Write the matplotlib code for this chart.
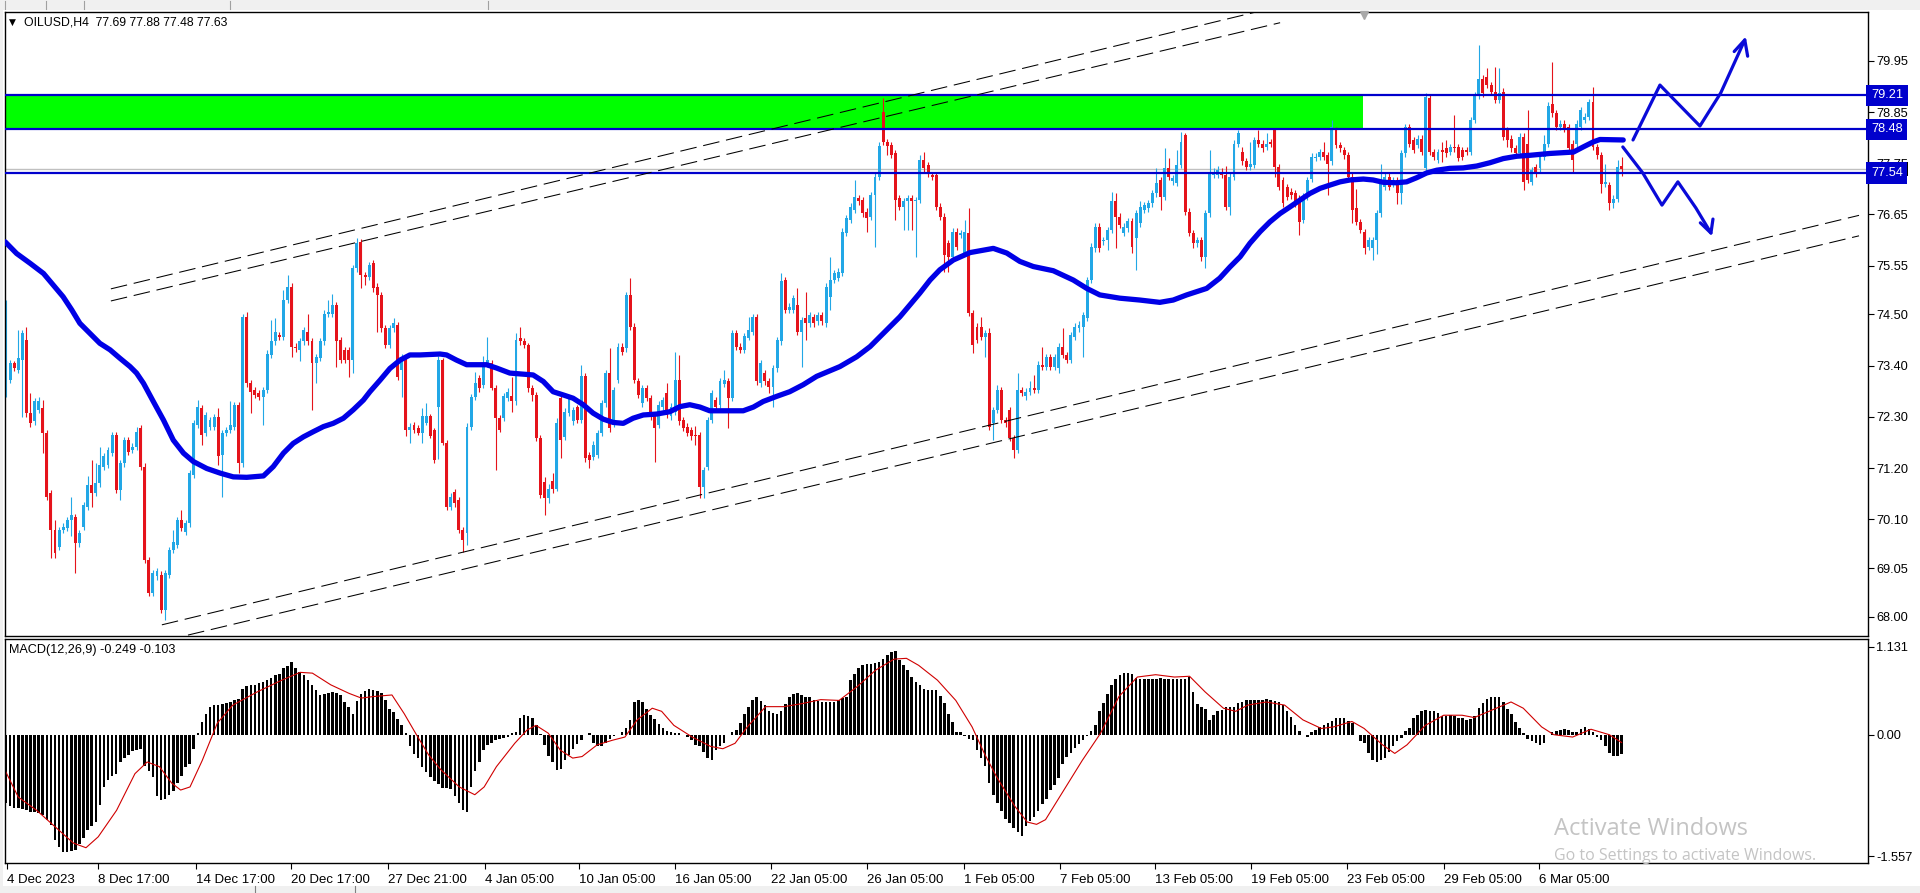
import numpy as np
import matplotlib
matplotlib.use("Agg")
import matplotlib.pyplot as plt
from matplotlib.patches import Rectangle

plt.rcParams['font.family'] = ['Liberation Sans', 'DejaVu Sans']

# ------------------------------------------------------------
# OILUSD H4 candles, one entry per bar
# ------------------------------------------------------------
open_ = [
    73.30, 73.09, 73.45, 73.31, 73.52, 73.95, 72.38, 72.20, 72.45, 72.48,
    71.95, 70.66, 69.87, 69.51, 69.87, 69.91, 70.08, 70.15, 69.58, 69.94,
    70.37, 70.84, 70.66, 70.87, 71.23, 71.27, 71.52, 71.91, 70.73, 71.30,
    71.80, 71.59, 71.66, 72.05, 71.23, 69.22, 68.51, 68.87, 68.91, 68.15,
    68.90, 69.44, 69.55, 70.08, 69.83, 70.01, 71.05, 72.12, 72.48, 71.95,
    72.09, 72.09, 72.30, 71.48, 71.95, 72.02, 72.09, 72.55, 71.30, 74.45,
    73.02, 72.88, 72.81, 72.73, 72.88, 73.63, 73.92, 74.06, 74.02, 74.81,
    75.10, 73.81, 73.74, 73.92, 74.13, 73.92, 73.45, 73.56, 73.92, 74.52,
    74.52, 74.70, 73.95, 73.74, 73.74, 73.52, 75.49, 76.06, 75.35, 75.31,
    75.60, 75.10, 74.92, 74.20, 73.84, 74.20, 74.27, 73.31, 73.59, 72.02,
    72.12, 72.06, 71.95, 72.16, 72.31, 72.02, 72.52, 73.52, 71.73, 70.37,
    70.69, 70.51, 69.87, 69.80, 72.09, 72.73, 73.13, 72.99, 73.45, 73.45,
    72.92, 72.27, 72.27, 72.70, 72.74, 72.63, 73.99, 73.92, 73.85, 72.92,
    72.77, 71.84, 70.90, 70.55, 70.92, 70.75, 72.70, 71.87, 72.38, 72.20,
    72.52, 72.23, 73.17, 71.48, 71.44, 71.48, 71.95, 72.59, 73.24, 72.16,
    73.09, 73.81, 73.77, 74.92, 74.24, 73.06, 72.59, 72.91, 72.70, 72.34,
    72.13, 72.52, 72.81, 72.31, 72.41, 73.09, 72.23, 72.09, 72.02, 71.91,
    71.91, 70.80, 71.23, 72.23, 72.66, 72.56, 73.00, 73.06, 72.70, 74.10,
    73.81, 73.74, 74.00, 74.13, 74.45, 73.02, 73.24, 73.06, 72.95, 73.34,
    73.92, 75.24, 74.60, 74.60, 74.70, 74.13, 74.42, 74.31, 74.45, 74.35,
    74.49, 74.31, 74.88, 75.24, 75.28, 75.39, 76.25, 76.53, 76.75, 77.00,
    76.96, 76.71, 76.60, 77.07, 77.46, 78.85, 78.21, 78.14, 77.96, 77.00,
    76.82, 76.93, 77.00, 76.93, 76.96, 77.82, 77.71, 77.50, 77.50, 76.82,
    76.60, 76.03, 75.74, 76.28, 76.21, 75.82, 76.25, 74.53, 74.24, 74.24,
    74.02, 74.10, 72.16, 72.45, 72.88, 72.23, 72.45, 71.84, 71.59, 72.88,
    72.74, 72.84, 72.91, 72.88, 73.42, 73.38, 73.59, 73.38, 73.34, 73.81,
    73.63, 73.52, 74.02, 74.20, 74.24, 74.42, 75.24, 75.92, 76.39, 76.07,
    76.10, 76.32, 76.93, 76.60, 76.25, 76.35, 76.50, 76.14, 76.46, 76.75,
    76.78, 76.89, 77.10, 77.39, 77.03, 77.64, 77.36, 77.32, 77.71, 78.36,
    76.71, 76.25, 76.03, 76.10, 75.74, 76.67, 77.50, 77.50, 77.57, 77.50,
    76.82, 77.46, 78.17, 78.00, 77.79, 77.67, 77.71, 78.24, 78.17, 78.10,
    78.21, 78.46, 77.67, 77.39, 77.24, 77.14, 77.10, 76.99, 76.53, 77.03,
    77.42, 77.86, 77.89, 77.99, 77.92, 77.79, 78.46, 78.14, 78.03, 77.92,
    77.46, 76.78, 76.49, 76.27, 75.95, 75.92, 76.10, 76.67, 77.24, 77.46,
    77.31, 77.39, 77.10, 77.96, 78.53, 78.24, 78.14, 78.28, 77.64, 79.15,
    77.99, 77.82, 78.03, 78.07, 77.99, 78.10, 78.10, 78.03, 78.03, 77.99,
    78.68, 79.21, 79.57, 79.61, 79.43, 79.29, 79.11, 79.29, 78.46, 78.28,
    78.07, 77.96, 78.32, 78.17, 77.35, 77.67, 77.64, 77.89, 78.17, 79.03,
    78.82, 78.53, 78.60, 78.53, 78.17, 78.17, 78.53, 78.68, 78.75, 79.07,
    78.10, 77.92, 77.31, 77.28, 76.89, 76.99, 77.69,
]
high = [
    74.81, 73.52, 73.50, 74.17, 74.17, 74.24, 72.81, 72.70, 72.73, 72.66,
    72.02, 70.73, 70.08, 69.94, 70.01, 70.15, 70.58, 70.22, 69.87, 70.48,
    71.02, 71.37, 71.30, 71.66, 71.52, 71.66, 71.98, 71.98, 71.37, 71.87,
    71.87, 71.73, 72.09, 72.12, 71.30, 69.29, 69.01, 69.05, 68.98, 69.01,
    69.51, 69.87, 70.15, 70.30, 70.08, 71.16, 72.23, 72.66, 72.55, 72.41,
    72.30, 72.37, 72.48, 72.02, 72.09, 72.63, 72.62, 72.62, 74.52, 74.56,
    73.09, 72.95, 72.88, 72.95, 73.73, 74.38, 74.42, 74.13, 75.03, 75.35,
    75.17, 73.88, 73.99, 74.24, 74.52, 73.99, 73.66, 73.99, 74.59, 74.81,
    74.95, 74.77, 74.02, 73.81, 73.81, 75.56, 76.14, 76.13, 75.42, 75.63,
    75.67, 75.17, 74.99, 74.27, 74.27, 74.42, 74.34, 73.66, 73.66, 72.16,
    72.19, 72.12, 72.49, 72.59, 72.36, 72.06, 73.60, 73.56, 71.80, 70.66,
    70.75, 70.58, 69.94, 72.16, 72.80, 73.27, 73.20, 73.60, 74.02, 73.52,
    72.99, 72.34, 72.81, 72.91, 73.16, 74.10, 74.24, 73.99, 73.88, 72.99,
    72.84, 71.91, 71.00, 70.85, 71.10, 72.27, 72.77, 72.49, 72.77, 72.52,
    72.56, 73.42, 73.24, 71.55, 71.77, 72.02, 72.66, 73.31, 73.77, 72.95,
    73.88, 73.88, 74.99, 75.28, 74.31, 73.13, 72.99, 72.99, 72.77, 72.41,
    72.63, 72.73, 73.02, 72.59, 73.70, 73.63, 72.30, 72.16, 72.09, 72.10,
    71.98, 71.23, 72.30, 72.88, 72.73, 73.13, 73.30, 73.13, 74.17, 74.17,
    73.88, 74.10, 74.45, 74.52, 74.52, 73.52, 73.31, 73.13, 73.41, 74.02,
    75.39, 75.31, 74.74, 74.92, 75.06, 74.45, 74.99, 74.56, 74.52, 74.56,
    74.56, 75.17, 75.74, 75.46, 75.49, 76.35, 76.64, 76.89, 77.39, 77.07,
    77.03, 76.78, 77.14, 77.53, 78.20, 79.15, 78.28, 78.21, 78.03, 77.07,
    77.00, 77.07, 77.07, 77.03, 77.93, 78.00, 77.78, 77.57, 77.57, 76.89,
    76.67, 76.10, 76.35, 76.35, 76.32, 76.53, 76.78, 74.60, 74.31, 74.45,
    74.17, 74.20, 72.52, 72.98, 72.95, 72.30, 72.52, 71.91, 73.24, 72.95,
    72.91, 73.06, 73.20, 73.49, 73.81, 73.66, 73.66, 73.66, 73.88, 74.20,
    73.70, 74.13, 74.31, 74.35, 74.56, 75.31, 76.03, 76.46, 76.46, 76.17,
    76.39, 77.14, 77.10, 76.67, 76.46, 76.57, 76.57, 76.74, 76.93, 76.92,
    76.96, 77.17, 77.64, 77.46, 78.07, 77.86, 77.50, 78.04, 78.43, 78.39,
    76.78, 76.32, 76.17, 76.17, 76.74, 78.04, 77.64, 77.68, 77.64, 77.68,
    77.53, 78.24, 78.46, 78.10, 77.86, 78.21, 78.31, 78.46, 78.24, 78.39,
    78.28, 78.50, 77.74, 77.46, 77.31, 77.21, 77.17, 77.06, 77.10, 77.46,
    77.96, 77.96, 78.06, 78.21, 77.99, 78.68, 78.53, 78.21, 78.10, 77.99,
    77.53, 77.20, 76.56, 76.34, 76.17, 76.17, 76.74, 77.74, 77.53, 77.53,
    77.46, 77.46, 78.03, 78.60, 78.60, 78.31, 78.35, 78.35, 79.25, 79.22,
    78.06, 78.06, 78.21, 78.25, 78.17, 78.78, 78.17, 78.10, 78.10, 78.75,
    79.28, 80.29, 79.64, 79.79, 79.50, 79.82, 79.79, 79.36, 78.53, 78.35,
    78.14, 78.39, 78.39, 78.89, 77.67, 77.74, 77.96, 78.35, 79.06, 79.93,
    78.89, 78.67, 78.67, 78.60, 78.24, 78.67, 78.96, 78.82, 79.14, 79.39,
    78.17, 77.99, 77.74, 77.35, 77.06, 77.82, 77.88,
]
low = [
    72.73, 73.02, 73.28, 73.24, 72.30, 72.30, 72.09, 72.13, 72.38, 71.52,
    70.51, 69.26, 69.26, 69.44, 69.80, 69.84, 69.73, 68.94, 69.51, 69.87,
    70.30, 70.37, 70.59, 70.80, 71.16, 71.20, 71.45, 70.66, 70.51, 71.23,
    71.48, 71.52, 71.59, 71.16, 69.15, 68.44, 68.44, 68.80, 68.08, 67.93,
    68.83, 69.37, 69.48, 69.84, 69.76, 69.94, 70.98, 72.05, 71.70, 71.88,
    72.02, 72.02, 71.27, 70.58, 71.88, 71.95, 72.02, 71.09, 71.23, 72.95,
    72.38, 72.70, 72.66, 72.12, 72.81, 73.56, 73.85, 73.95, 73.95, 74.74,
    73.59, 73.70, 73.49, 73.85, 73.85, 72.45, 73.02, 73.49, 73.85, 74.45,
    74.45, 73.38, 73.45, 73.45, 73.16, 73.24, 75.42, 75.06, 75.13, 75.24,
    74.99, 74.13, 74.13, 73.77, 73.77, 74.13, 73.09, 72.73, 71.88, 71.73,
    71.95, 71.90, 71.73, 72.12, 71.84, 71.30, 71.40, 71.70, 70.30, 70.30,
    70.37, 69.80, 69.40, 69.55, 72.02, 72.66, 72.84, 72.92, 73.38, 72.88,
    71.16, 71.98, 72.20, 72.63, 72.41, 72.56, 73.85, 73.77, 72.84, 72.63,
    71.77, 70.55, 70.19, 70.45, 70.66, 70.70, 71.41, 71.80, 72.31, 72.13,
    72.16, 72.16, 71.34, 71.20, 71.37, 71.41, 71.88, 72.52, 71.98, 72.09,
    73.02, 73.63, 73.70, 74.17, 73.02, 72.70, 72.52, 72.63, 72.24, 71.34,
    72.06, 72.45, 72.27, 72.24, 72.34, 72.13, 71.99, 71.88, 71.80, 71.70,
    70.55, 70.55, 71.16, 72.16, 72.45, 72.49, 72.95, 72.06, 72.63, 73.74,
    73.67, 73.67, 73.95, 74.06, 72.99, 72.95, 72.99, 72.81, 72.52, 73.27,
    73.85, 74.53, 74.53, 74.53, 74.06, 73.38, 73.95, 74.24, 74.24, 74.28,
    74.28, 74.24, 74.60, 75.17, 75.21, 75.32, 76.18, 76.46, 76.68, 76.86,
    76.60, 76.28, 76.53, 75.96, 77.39, 78.14, 77.93, 77.86, 76.53, 76.75,
    76.32, 76.32, 76.32, 75.74, 76.89, 77.57, 77.46, 77.39, 76.75, 76.53,
    75.42, 75.42, 75.67, 75.89, 76.14, 75.75, 74.46, 73.67, 73.88, 73.95,
    73.59, 72.02, 71.80, 72.38, 72.16, 72.09, 71.77, 71.41, 71.52, 72.74,
    72.67, 72.77, 72.81, 72.81, 73.31, 73.31, 73.31, 73.31, 73.24, 73.56,
    73.45, 73.45, 73.95, 74.13, 73.59, 74.35, 75.17, 75.85, 75.85, 76.00,
    75.89, 76.25, 75.92, 76.35, 76.18, 76.28, 75.82, 75.46, 76.39, 76.68,
    76.71, 76.82, 77.03, 76.75, 76.96, 77.39, 77.29, 77.25, 77.64, 76.64,
    76.18, 75.92, 75.96, 75.64, 75.49, 76.60, 77.43, 77.43, 77.43, 76.75,
    76.64, 77.39, 78.10, 77.72, 77.60, 77.60, 77.64, 78.10, 78.00, 78.03,
    78.10, 77.46, 77.17, 76.82, 76.96, 76.99, 76.82, 76.20, 76.46, 76.96,
    77.35, 77.79, 77.82, 77.82, 77.06, 77.72, 78.07, 78.00, 77.85, 77.39,
    76.46, 76.42, 76.24, 75.81, 75.88, 75.67, 75.81, 76.60, 77.17, 77.17,
    77.24, 76.88, 76.88, 77.89, 78.10, 77.96, 78.07, 77.93, 77.57, 77.92,
    77.82, 77.75, 77.78, 77.89, 77.92, 78.00, 77.79, 77.82, 77.92, 77.92,
    78.61, 79.14, 79.18, 79.36, 79.22, 79.04, 79.04, 78.25, 78.10, 78.00,
    77.89, 77.89, 77.17, 77.32, 77.28, 77.46, 77.57, 77.82, 78.10, 78.75,
    78.46, 78.46, 78.43, 78.00, 77.56, 78.10, 78.46, 78.61, 78.68, 78.03,
    77.85, 77.10, 77.24, 76.74, 76.78, 76.92, 77.48,
]
close_ = [
    74.30, 73.45, 73.35, 73.56, 74.10, 72.38, 72.16, 72.63, 72.63, 71.95,
    70.58, 69.87, 69.37, 69.87, 69.94, 70.08, 70.19, 69.58, 69.80, 70.41,
    70.84, 70.66, 70.87, 71.27, 71.45, 71.59, 71.91, 70.73, 71.30, 71.80,
    71.55, 71.66, 71.98, 71.23, 69.22, 68.51, 68.94, 68.98, 68.15, 68.94,
    69.44, 69.62, 70.08, 69.91, 70.01, 71.09, 72.16, 72.52, 71.91, 72.34,
    72.23, 72.30, 71.45, 71.95, 72.02, 72.12, 72.55, 71.30, 74.45, 73.02,
    72.84, 72.77, 72.73, 72.88, 73.66, 73.92, 74.13, 74.02, 74.81, 75.10,
    73.81, 73.77, 73.92, 74.17, 73.92, 73.45, 73.59, 73.92, 74.52, 74.56,
    74.70, 73.92, 73.52, 73.52, 73.52, 75.49, 76.03, 75.35, 75.31, 75.56,
    75.06, 74.92, 74.20, 73.84, 74.20, 74.31, 73.16, 73.59, 72.02, 72.09,
    72.02, 71.95, 72.31, 72.31, 71.88, 71.37, 73.52, 71.73, 70.37, 70.58,
    70.44, 69.87, 69.65, 72.09, 72.73, 73.02, 72.91, 73.45, 73.52, 72.92,
    72.27, 72.02, 72.74, 72.84, 72.63, 73.95, 73.92, 73.85, 72.92, 72.77,
    71.84, 70.62, 70.55, 70.75, 70.75, 72.16, 71.80, 72.41, 72.70, 72.45,
    72.23, 73.17, 71.41, 71.37, 71.70, 71.95, 72.59, 73.24, 72.06, 72.88,
    73.81, 73.70, 74.92, 74.24, 73.09, 72.77, 72.91, 72.70, 72.31, 72.06,
    72.56, 72.66, 72.34, 72.52, 73.09, 72.20, 72.06, 71.95, 71.88, 71.88,
    70.80, 71.16, 72.23, 72.81, 72.52, 73.06, 73.09, 72.70, 74.10, 73.81,
    73.74, 74.03, 74.17, 74.45, 73.06, 73.45, 73.06, 72.95, 73.34, 73.95,
    75.21, 74.60, 74.67, 74.85, 74.13, 74.38, 74.31, 74.49, 74.31, 74.49,
    74.35, 75.10, 75.24, 75.39, 75.42, 76.28, 76.57, 76.82, 77.03, 76.93,
    76.67, 76.57, 77.07, 77.46, 78.11, 78.21, 78.11, 77.93, 76.96, 76.82,
    76.93, 77.00, 76.93, 76.96, 77.82, 77.64, 77.53, 77.46, 76.82, 76.60,
    75.78, 75.74, 76.28, 75.96, 76.25, 76.28, 74.53, 73.85, 73.95, 74.02,
    74.10, 72.09, 72.45, 72.88, 72.23, 72.16, 71.84, 71.59, 72.88, 72.81,
    72.84, 72.91, 72.88, 73.42, 73.38, 73.59, 73.38, 73.59, 73.81, 73.63,
    73.52, 74.06, 74.24, 74.28, 74.49, 75.24, 75.96, 76.39, 75.92, 76.10,
    76.32, 76.93, 76.60, 76.42, 76.39, 76.50, 75.96, 76.67, 76.82, 76.85,
    76.89, 77.10, 77.32, 77.03, 77.64, 77.46, 77.43, 77.71, 78.21, 76.71,
    76.25, 76.03, 76.10, 75.74, 76.67, 77.53, 77.57, 77.61, 77.50, 76.82,
    77.46, 78.17, 78.39, 77.79, 77.67, 77.74, 78.24, 78.17, 78.07, 78.17,
    78.17, 77.67, 77.24, 76.89, 77.03, 77.06, 76.89, 76.49, 77.03, 77.39,
    77.89, 77.89, 77.99, 77.89, 77.74, 78.53, 78.14, 78.07, 77.92, 77.46,
    76.74, 76.49, 76.31, 75.92, 76.10, 76.10, 76.67, 77.31, 77.46, 77.24,
    77.39, 77.10, 77.96, 78.53, 78.17, 78.03, 78.28, 78.00, 79.18, 77.99,
    77.89, 77.99, 77.99, 77.96, 78.10, 78.07, 77.86, 77.89, 77.99, 78.68,
    79.21, 79.57, 79.25, 79.43, 79.29, 79.11, 79.25, 78.32, 78.25, 78.07,
    77.96, 78.32, 77.35, 77.39, 77.60, 77.53, 77.89, 78.17, 78.99, 78.82,
    78.53, 78.60, 78.50, 78.07, 77.82, 78.60, 78.89, 78.75, 79.07, 78.10,
    77.92, 77.31, 77.35, 76.89, 76.99, 77.67, 77.63,
]

# moving average line (bar, price)
ma_bar = [-0.2, 2.6, 5.9, 9.2, 11.6, 14.0, 16.1, 18.1, 20.6, 23.0, 25.5, 27.9,
          30.4, 32.0, 33.7, 36.1, 38.6, 41.0, 43.5, 45.9, 49.2, 52.5, 55.7, 59.0,
          63.1, 65.5, 68.0, 70.4, 72.9, 75.3, 77.8, 80.2, 82.7, 85.1, 87.6, 89.2,
          91.7, 94.1, 96.6, 99.0, 101.5, 106.4, 108.0, 110.4, 112.9, 117.8, 120.2,
          123.5, 129.2, 131.7, 134.1, 136.6, 139.0, 141.5, 143.9, 146.4, 148.8,
          151.3, 153.7, 156.2, 159.5, 162.7, 165.2, 167.6, 170.1, 172.5, 180.7,
          183.2, 185.6, 188.9, 192.1, 195.4, 198.7, 204.4, 208.5, 211.8, 214.2,
          216.7, 219.1, 221.6, 224.0, 226.5, 228.9, 232.2, 236.3, 242.0, 245.3,
          248.5, 251.8, 256.7, 261.6, 264.9, 268.1, 273.0, 277.9, 282.8, 286.1,
          289.4, 294.3, 297.5, 300.0, 302.5, 304.9, 307.4, 309.8, 312.3, 314.7,
          317.2, 319.6, 322.1, 324.5, 327.0, 329.4, 332.7, 335.1, 337.6, 340.8,
          343.3, 345.8, 348.2, 350.7, 353.9, 357.2, 360.5, 363.7, 367.0, 370.3,
          373.5, 378.4, 384.2, 386.6, 389.1, 390.7, 396.4]
ma_price = [76.06, 75.81, 75.60, 75.38, 75.13, 74.88, 74.60, 74.31, 74.09, 73.88,
            73.74, 73.56, 73.38, 73.24, 73.02, 72.63, 72.23, 71.80, 71.52, 71.34,
            71.19, 71.09, 71.01, 71.00, 71.03, 71.23, 71.52, 71.73, 71.87, 71.98,
            72.09, 72.16, 72.27, 72.45, 72.66, 72.84, 73.09, 73.34, 73.52, 73.63,
            73.63, 73.65, 73.63, 73.52, 73.42, 73.42, 73.35, 73.24, 73.20, 73.06,
            72.84, 72.77, 72.70, 72.56, 72.38, 72.25, 72.18, 72.16, 72.27, 72.34,
            72.36, 72.41, 72.52, 72.56, 72.51, 72.43, 72.43, 72.51, 72.63, 72.74,
            72.84, 72.99, 73.17, 73.38, 73.59, 73.81, 74.02, 74.24, 74.45, 74.71,
            74.96, 75.24, 75.46, 75.67, 75.83, 75.92, 75.82, 75.64, 75.53, 75.44,
            75.24, 75.06, 74.92, 74.85, 74.81, 74.76, 74.81, 74.92, 75.06, 75.28,
            75.52, 75.74, 76.03, 76.28, 76.49, 76.67, 76.81, 76.96, 77.10, 77.21,
            77.28, 77.35, 77.39, 77.41, 77.39, 77.34, 77.33, 77.35, 77.44, 77.54,
            77.60, 77.64, 77.65, 77.69, 77.76, 77.85, 77.90, 77.92, 77.96, 77.99,
            78.10, 78.21, 78.26, 78.25]

# MACD(12,26,9) histogram, one value per bar
macd_hist = [
    -0.88, -0.92, -0.94, -0.94, -0.95, -0.97, -0.99, -0.99, -1.01, -1.03,
    -1.10, -1.16, -1.35, -1.44, -1.50, -1.51, -1.49, -1.48, -1.40, -1.33,
    -1.22, -1.17, -1.12, -0.90, -0.67, -0.58, -0.53, -0.50, -0.35, -0.30,
    -0.26, -0.21, -0.19, -0.18, -0.40, -0.47, -0.54, -0.79, -0.84, -0.82,
    -0.77, -0.72, -0.62, -0.53, -0.41, -0.37, -0.18, 0.02, 0.16, 0.26,
    0.36, 0.38, 0.38, 0.40, 0.41, 0.42, 0.44, 0.46, 0.59, 0.63,
    0.64, 0.64, 0.66, 0.68, 0.70, 0.73, 0.76, 0.78, 0.85, 0.88,
    0.93, 0.86, 0.80, 0.77, 0.70, 0.64, 0.57, 0.51, 0.52, 0.53,
    0.55, 0.53, 0.51, 0.42, 0.36, 0.27, 0.43, 0.52, 0.56, 0.59,
    0.57, 0.56, 0.53, 0.45, 0.33, 0.29, 0.20, 0.12, 0.02, -0.15,
    -0.25, -0.30, -0.41, -0.48, -0.54, -0.60, -0.63, -0.68, -0.69, -0.70,
    -0.78, -0.88, -0.97, -0.99, -0.67, -0.47, -0.35, -0.20, -0.13, -0.10,
    -0.07, -0.05, -0.04, -0.03, 0.02, 0.04, 0.21, 0.25, 0.24, 0.21,
    0.13, 0.01, -0.13, -0.27, -0.35, -0.45, -0.44, -0.32, -0.26, -0.18,
    -0.12, -0.07, -0.01, 0.02, -0.11, -0.15, -0.14, -0.11, -0.05, -0.02,
    0.00, 0.03, 0.09, 0.19, 0.42, 0.45, 0.42, 0.33, 0.25, 0.20,
    0.14, 0.08, 0.05, 0.03, 0.02, 0.02, -0.01, -0.03, -0.07, -0.13,
    -0.15, -0.22, -0.30, -0.32, -0.20, -0.15, -0.10, -0.01, 0.03, 0.06,
    0.15, 0.26, 0.36, 0.45, 0.49, 0.43, 0.38, 0.31, 0.28, 0.27,
    0.31, 0.40, 0.48, 0.52, 0.53, 0.51, 0.49, 0.48, 0.45, 0.43,
    0.42, 0.42, 0.42, 0.42, 0.44, 0.47, 0.49, 0.70, 0.78, 0.85,
    0.89, 0.91, 0.91, 0.92, 0.93, 0.97, 1.02, 1.06, 1.08, 0.96,
    0.89, 0.83, 0.74, 0.68, 0.64, 0.59, 0.58, 0.57, 0.57, 0.50,
    0.41, 0.27, 0.16, 0.04, 0.04, -0.02, -0.05, -0.07, -0.19, -0.30,
    -0.40, -0.62, -0.77, -0.87, -0.98, -1.08, -1.13, -1.20, -1.25, -1.30,
    -1.17, -1.11, -1.05, -0.98, -0.89, -0.83, -0.71, -0.64, -0.56, -0.38,
    -0.29, -0.24, -0.17, -0.12, -0.07, -0.02, 0.05, 0.13, 0.30, 0.41,
    0.52, 0.64, 0.72, 0.77, 0.79, 0.79, 0.78, 0.73, 0.72, 0.72,
    0.71, 0.72, 0.72, 0.73, 0.72, 0.72, 0.72, 0.72, 0.72, 0.72,
    0.74, 0.55, 0.40, 0.36, 0.33, 0.19, 0.25, 0.30, 0.32, 0.36,
    0.36, 0.36, 0.41, 0.42, 0.44, 0.44, 0.45, 0.45, 0.45, 0.46,
    0.45, 0.43, 0.42, 0.38, 0.30, 0.23, 0.12, 0.05, -0.01, -0.03,
    0.03, 0.06, 0.10, 0.12, 0.15, 0.18, 0.21, 0.22, 0.22, 0.18,
    0.15, 0.00, -0.08, -0.10, -0.24, -0.32, -0.35, -0.33, -0.30, -0.22,
    -0.14, -0.08, -0.04, 0.05, 0.08, 0.21, 0.25, 0.30, 0.32, 0.31,
    0.31, 0.28, 0.24, 0.24, 0.25, 0.24, 0.22, 0.21, 0.19, 0.20,
    0.24, 0.34, 0.41, 0.46, 0.49, 0.49, 0.48, 0.42, 0.33, 0.26,
    0.16, 0.08, 0.02, -0.05, -0.08, -0.11, -0.13, -0.11, -0.01, 0.03,
    0.05, 0.06, 0.07, 0.06, 0.04, 0.03, 0.07, 0.10, 0.07, 0.03,
    -0.03, -0.07, -0.15, -0.23, -0.27, -0.27, -0.25,
]

# MACD signal line (bar, value)
sig_bar = [-0.3, 3.0, 7.5, 12.0, 16.5, 19.6, 22.6, 27.1, 31.6, 34.6, 37.6, 40.6,
           42.8, 45.1, 48.1, 51.8, 55.6, 61.6, 67.6, 72.1, 75.1, 79.6, 84.1, 87.1,
           90.1, 94.6, 97.6, 100.6, 103.6, 106.6, 111.1, 114.9, 117.2, 120.2,
           124.7, 127.7, 129.9, 132.9, 135.9, 138.9, 141.2, 144.9, 148.7, 151.7,
           154.7, 158.4, 160.7, 163.7, 168.2, 172.7, 175.7, 178.7, 181.7, 186.2,
           190.7, 195.2, 199.7, 204.2, 208.7, 213.2, 217.7, 220.7, 223.7, 228.3,
           232.8, 236.8, 239.8, 242.8, 247.3, 250.3, 252.6, 254.8, 259.3, 263.8,
           268.3, 272.8, 277.3, 281.8, 286.4, 290.1, 293.9, 298.4, 301.4, 304.4,
           308.9, 313.4, 317.9, 322.4, 325.4, 329.9, 332.9, 337.4, 340.4, 343.4,
           347.9, 352.4, 356.9, 359.9, 364.4, 368.9, 371.9, 376.4, 379.4, 384.0,
           388.5, 393.0, 396.0]
sig_val = [-0.45, -0.80, -0.97, -1.18, -1.39, -1.45, -1.31, -0.97, -0.50, -0.35,
           -0.41, -0.62, -0.71, -0.67, -0.33, 0.15, 0.38, 0.55, 0.70, 0.80, 0.79,
           0.64, 0.53, 0.47, 0.49, 0.51, 0.27, 0.00, -0.26, -0.45, -0.67, -0.77,
           -0.67, -0.41, -0.11, 0.06, 0.12, 0.02, -0.20, -0.30, -0.28, -0.13,
           -0.07, -0.03, 0.19, 0.34, 0.30, 0.12, -0.03, -0.15, -0.18, -0.11, 0.10,
           0.36, 0.36, 0.40, 0.45, 0.44, 0.62, 0.83, 0.97, 0.98, 0.89, 0.70, 0.44,
           0.10, -0.24, -0.54, -0.92, -1.12, -1.15, -1.09, -0.71, -0.33, 0.02,
           0.49, 0.74, 0.77, 0.74, 0.75, 0.55, 0.34, 0.30, 0.38, 0.42, 0.38, 0.19,
           0.08, 0.10, 0.17, 0.08, -0.13, -0.24, -0.13, 0.12, 0.25, 0.25, 0.22,
           0.32, 0.42, 0.34, 0.10, 0.00, -0.03, 0.07, 0.00, -0.10]

# horizontal levels, supply zone, bid
levels = [79.21, 78.48, 77.54]
zone_low, zone_high = 78.48, 79.21
zone_end_bar = 332.6
bid_price = 77.63

# dashed channel lines: (bar0, price0, bar1, price1)
channel_lines = [
    (25.7, 75.05, 306.4, 81.00),
    (25.7, 74.79, 312.3, 80.77),
    (38.2, 67.83, 454.2, 76.63),
    (44.6, 67.61, 454.2, 76.19),
]

# hand-drawn scenario arrows
up_path_bar = [398.8, 405.4, 415.2, 420.3, 426.2]
up_path_price = [78.25, 79.43, 78.55, 79.26, 80.40]
up_head_bar = [423.6, 426.2, 426.9]
up_head_price = [80.15, 80.40, 80.05]
down_path_bar = [396.3, 401.2, 405.9, 409.8, 414.2, 417.9]
down_path_price = [78.10, 77.54, 76.85, 77.35, 76.79, 76.25]
down_head_bar = [415.3, 417.9, 418.4]
down_head_price = [76.47, 76.25, 76.55]

price_ticks = [79.95, 78.85, 77.75, 76.65, 75.55, 74.50, 73.40, 72.30,
               71.20, 70.10, 69.05, 68.00]
macd_ticks = [1.131, 0.0, -1.557]
macd_tick_labels = ['1.131', '0.00', '-1.557']

time_pos = [0.3, 22.5, 46.6, 69.9, 93.6, 117.4, 140.4, 164.0, 187.5, 211.0,
            234.8, 258.3, 281.6, 305.1, 328.7, 352.5, 375.7]
time_labels = ['4 Dec 2023', '8 Dec 17:00', '14 Dec 17:00', '20 Dec 17:00',
               '27 Dec 21:00', '4 Jan 05:00', '10 Jan 05:00', '16 Jan 05:00',
               '22 Jan 05:00', '26 Jan 05:00', '1 Feb 05:00', '7 Feb 05:00',
               '13 Feb 05:00', '19 Feb 05:00', '23 Feb 05:00', '29 Feb 05:00',
               '6 Mar 05:00']

UP = '#22a7e6'
DOWN = '#e5131b'
LINE_BLUE = '#0000cc'

# ------------------------------------------------------------
W, H = 1920, 893


def px_box(x0, y0, x1, y1):
    return [x0 / W, 1 - y1 / H, (x1 - x0) / W, (y1 - y0) / H]


fig = plt.figure(figsize=(W / 100, H / 100), dpi=100)
fig.patch.set_facecolor('white')

# window chrome
fig.add_artist(Rectangle((0, 1 - 10 / H), 1, 10 / H, transform=fig.transFigure,
                         fc='#f0f0f0', ec='none'))
fig.add_artist(Rectangle((0, 0), 1, 7 / H, transform=fig.transFigure,
                         fc='#f0f0f0', ec='none'))
fig.add_artist(Rectangle((0, 0), 3 / W, 1, transform=fig.transFigure,
                         fc='#f0f0f0', ec='none'))
for xx in [5, 46, 84, 230, 488]:
    fig.add_artist(plt.Line2D([xx / W, xx / W], [1 - 9 / H, 1 - 1 / H],
                              transform=fig.transFigure, color='#a0a0a0', lw=0.8))
for xx in [255, 355]:
    fig.add_artist(plt.Line2D([xx / W, xx / W], [0, 7 / H],
                              transform=fig.transFigure, color='#808080', lw=0.8))

ax = fig.add_axes(px_box(5, 12, 1868, 636))
axm = fig.add_axes(px_box(5, 639, 1868, 863), sharex=ax)

o = np.array(open_)
h = np.array(high)
l = np.array(low)
c = np.array(close_)
x = np.arange(len(c))
colors = np.where(c >= o, UP, DOWN)

# zone and levels
ax.fill_between([-1, zone_end_bar], zone_low, zone_high, color='#00ff00',
                lw=0, zorder=0.5)
ax.axhline(bid_price, color='#c0c0c0', lw=1.0, zorder=1)

# candles
ax.vlines(x, l, h, colors=colors, lw=0.8, zorder=2)
body = np.maximum(np.abs(c - o), 0.02)
ax.bar(x, body, bottom=np.minimum(o, c), width=0.72, color=colors, lw=0, zorder=2.1)

for lv in levels:
    ax.axhline(lv, color=LINE_BLUE, lw=1.6, zorder=3)

for b0, p0, b1, p1 in channel_lines:
    ax.plot([b0, b1], [p0, p1], color='black', lw=0.75, ls=(0, (16, 6.5)), zorder=3)

ax.plot(ma_bar, ma_price, color='#0000e6', lw=3.8, solid_capstyle='round',
        solid_joinstyle='round', zorder=4)

for bx, py in [(up_path_bar, up_path_price), (up_head_bar, up_head_price),
               (down_path_bar, down_path_price), (down_head_bar, down_head_price)]:
    ax.plot(bx, py, color='#0a0ad8', lw=2.3, solid_capstyle='round',
            solid_joinstyle='round', zorder=5)

ax.plot(332.8, 80.93, marker='v', color='#a8a8a8', ms=6, clip_on=False, zorder=6)

ax.set_xlim(-0.25, 456.4)
ax.set_ylim(67.59, 81.0)

ax.yaxis.tick_right()
ax.set_yticks(price_ticks)
ax.set_yticklabels(['%.2f' % v for v in price_ticks])
ax.tick_params(axis='y', length=4, width=0.8, pad=2, labelsize=9.2, colors='black')
ax.tick_params(axis='x', bottom=False, labelbottom=False)

# price tags on the right scale (bid tag is hidden under the 77.54 tag)
ax.add_patch(Rectangle((1.0012, bid_price - 0.15), 0.0205, 0.30,
                       transform=ax.get_yaxis_transform(), clip_on=False,
                       fc='black', ec='none', zorder=9))
for lv in levels:
    ax.text(1.0016, lv, '%.2f' % lv, transform=ax.get_yaxis_transform(), ha='left',
            va='center', fontsize=9.2, color='white', zorder=11, clip_on=False,
            bbox=dict(boxstyle='square,pad=0.36', fc=LINE_BLUE, ec='none'))

fig.text(9 / W, 1 - 22.5 / H, '▼', fontsize=6.5, va='center', ha='left',
         family=['DejaVu Sans'])
fig.text(24 / W, 1 - 22.5 / H, 'OILUSD,H4  77.69 77.88 77.48 77.63', fontsize=8.8,
         va='center', ha='left')

# MACD panel
axm.bar(np.arange(len(macd_hist)), macd_hist, width=0.62, color='black', lw=0)
axm.plot(sig_bar, sig_val, color='#d00000', lw=0.8)
axm.set_ylim(-1.646, 1.228)
axm.yaxis.tick_right()
axm.set_yticks(macd_ticks)
axm.set_yticklabels(macd_tick_labels)
axm.tick_params(axis='y', length=4, width=0.8, pad=2, labelsize=9.2)
axm.set_xticks(time_pos)
axm.set_xticklabels(time_labels, ha='left')
axm.tick_params(axis='x', length=4, width=0.8, pad=4, labelsize=9.5)
fig.text(9 / W, 1 - 650 / H, 'MACD(12,26,9) -0.249 -0.103', fontsize=9.1,
         va='center', ha='left')

for a in (ax, axm):
    for s in a.spines.values():
        s.set_color('black')
        s.set_linewidth(1.0)

fig.text(1554 / W, 1 - 835 / H, 'Activate Windows', fontsize=17, color='#c4c4c4',
         family=['Open Sans', 'DejaVu Sans'], va='baseline', ha='left')
fig.text(1554 / W, 1 - 860 / H, 'Go to Settings to activate Windows.', fontsize=11.5,
         color='#c4c4c4', family=['Open Sans', 'DejaVu Sans'], va='baseline', ha='left')

fig.savefig('out.png', dpi=100)
